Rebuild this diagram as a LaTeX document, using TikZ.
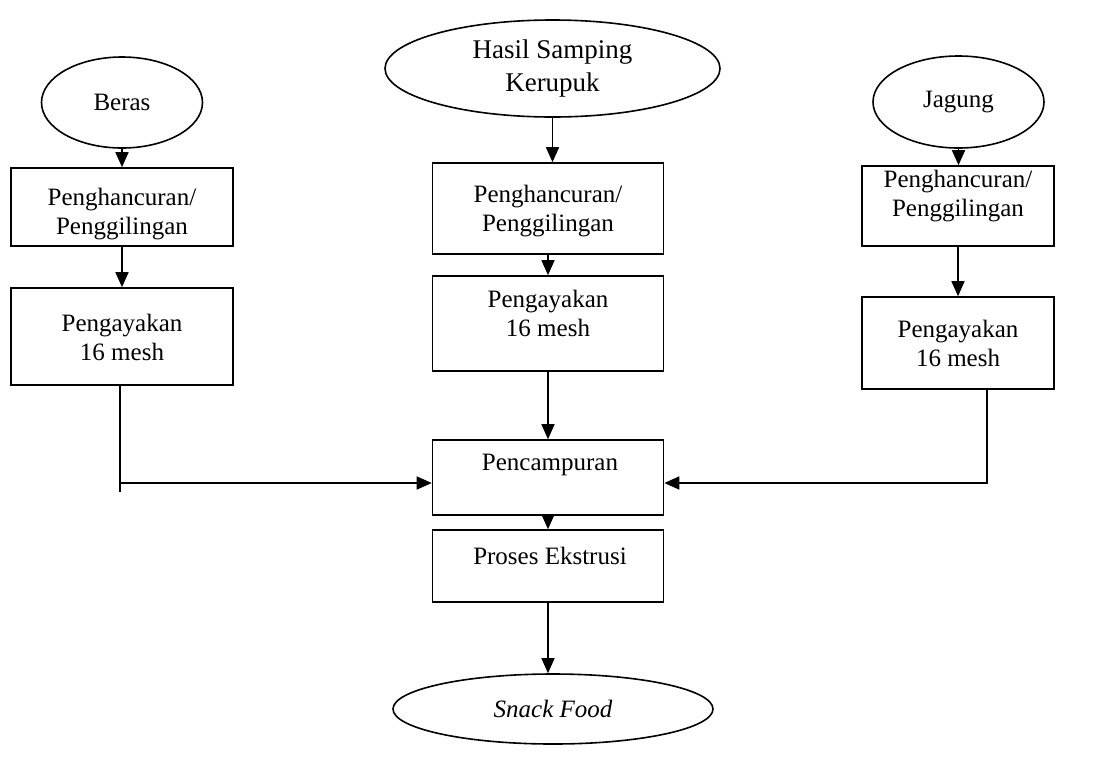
\documentclass[tikz,border=0pt]{standalone}
\usepackage{fontspec}
\setmainfont{Liberation Serif}
\usetikzlibrary{arrows.meta,shapes.geometric}
\begin{document}
\begin{tikzpicture}[x=1pt,y=-1pt,
  line width=1.6pt,
  every node/.style={font=\fontsize{25}{29}\selectfont, align=center},
  boxnode/.style={draw, rectangle, inner sep=0pt},
  ovalnode/.style={draw, ellipse, inner sep=0pt},
  txt/.style={inner sep=0pt},
  arr/.style={-{Triangle[length=15pt,width=13pt]}}]
\useasboundingbox (0,0) rectangle (1102,772);
% left column
\node[ovalnode, minimum width=161pt, minimum height=91pt] (beras) at (122,102.5) {Beras};
\node[boxnode, minimum width=222pt, minimum height=78pt] (lb1) at (122,207) {};
\node[txt] (lt1) at (122,214) {Penghancuran/\\Penggilingan};
\node[boxnode, minimum width=222pt, minimum height=97pt] (lb2) at (122,336.5) {};
\node[txt] (lt2) at (122,337) {Pengayakan\\16 mesh};
% center column
\node[ovalnode, minimum width=335pt, minimum height=97pt, font=\fontsize{27}{33}\selectfont] (hasil) at (552.5,68.5) {Hasil Samping\\Kerupuk};
\node[boxnode, minimum width=231pt, minimum height=91pt] (cb1) at (548,208.5) {};
\node[txt] (ct1) at (548,211) {Penghancuran/\\Penggilingan};
\node[boxnode, minimum width=231pt, minimum height=95pt] (cb2) at (548,323.5) {};
\node[txt] (ct2) at (548,313) {Pengayakan\\16 mesh};
\node[boxnode, minimum width=231pt, minimum height=75pt] (mix) at (548,477.5) {};
\node[txt] (mt) at (550,465) {Pencampuran};
\node[boxnode, minimum width=231pt, minimum height=72pt] (ext) at (548,566) {};
\node[txt] (et) at (550,556) {Proses Ekstrusi};
\node[ovalnode, minimum width=320pt, minimum height=70pt] (snack) at (553,709) {\itshape Snack Food};
% right column
\node[ovalnode, minimum width=171pt, minimum height=92pt] (jagung) at (958.5,102) {Jagung};
\node[boxnode, minimum width=192pt, minimum height=80pt] (rb1) at (958,206) {};
\node[txt] (rt1) at (958,196) {Penghancuran/\\Penggilingan};
\node[boxnode, minimum width=192pt, minimum height=92pt] (rb2) at (958,343) {};
\node[txt] (rt2) at (958,343) {Pengayakan\\16 mesh};
% junction points
\coordinate (lj) at (120,483);
\coordinate (lend) at (120,492);
\coordinate (rj) at (987,483);
% connectors
\draw[arr] (beras.south) -- (lb1.north);
\draw[arr] (lb1.south) -- (lb2.north);
\draw[arr] (hasil.south) -- (hasil.south |- cb1.north);
\draw[arr] (cb1.south) -- (cb2.north);
\draw[arr] (cb2.south) -- (mix.north);
\draw[arr] (mix.south) -- (ext.north);
\draw[arr] (ext.south) -- (ext.south |- snack.north);
\draw[arr] (jagung.south) -- (jagung.south |- rb1.north);
\draw[arr] (rb1.south) -- (rb2.north);
\draw (lb2.south -| lend) -- (lend);
\draw[arr] (lj) -- (lj -| mix.west);
\draw[arr] (rb2.south -| rj) -- (rj) -- (rj -| mix.east);
\end{tikzpicture}
\end{document}
